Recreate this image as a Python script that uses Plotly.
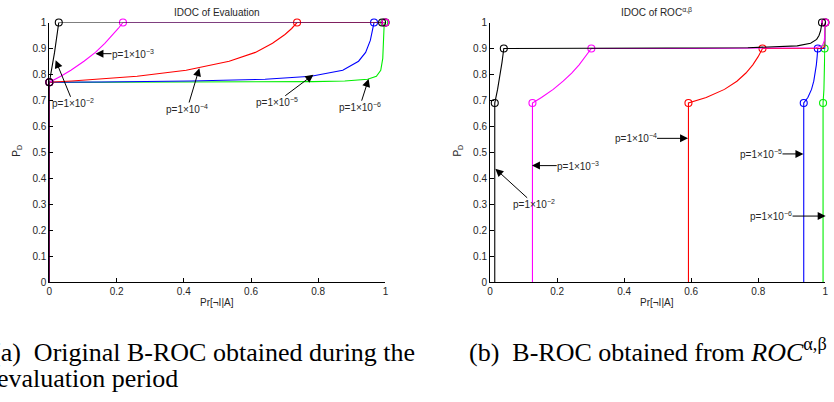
import plotly.graph_objects as go

# ---------------- data ----------------
base_rates = ["1e-2", "1e-3", "1e-4", "1e-5", "1e-6"]
curve_colors = {"1e-2": "#000000", "1e-3": "#ff00ff", "1e-4": "#ff0000",
                "1e-5": "#0000ff", "1e-6": "#00ee00"}
x_ticks = [0, 0.2, 0.4, 0.6, 0.8, 1]
y_ticks = [0, 0.1, 0.2, 0.3, 0.4, 0.5, 0.6, 0.7, 0.8, 0.9, 1]

# (a) IDOC of Evaluation
a_x_p2 = [0, 0, 0.0154, 0.028, 0.99]
a_y_p2 = [0, 0.77, 0.885, 1, 1]
a_x_p3 = [0, 0, 0.034, 0.064, 0.103, 0.137, 0.165, 0.190, 0.205, 0.219, 0.999]
a_y_p3 = [0, 0.77, 0.793, 0.816, 0.851, 0.885, 0.920, 0.954, 0.977, 1, 1]
a_x_p4 = [0, 0, 0.067, 0.152, 0.261, 0.407, 0.535, 0.613, 0.664, 0.701, 0.721, 0.737, 0.9999]
a_y_p4 = [0, 0.77, 0.775, 0.782, 0.793, 0.816, 0.851, 0.885, 0.920, 0.954, 0.977, 1, 1]
a_x_p5 = [0, 0, 0.154, 0.266, 0.420, 0.642, 0.779, 0.873, 0.920, 0.941, 0.955, 0.966, 0.99999]
a_y_p5 = [0, 0.77, 0.7712, 0.7723, 0.7746, 0.7815, 0.793, 0.816, 0.851, 0.885, 0.931, 1, 1]
a_x_p6 = [0, 0, 0.154, 0.267, 0.421, 0.645, 0.784, 0.879, 0.947, 0.973, 0.986, 0.992, 0.995, 0.9964, 1.0]
a_y_p6 = [0, 0.77, 0.7701, 0.7702, 0.7705, 0.7712, 0.7723, 0.7746, 0.7815, 0.793, 0.816, 0.862, 0.931, 1, 1]
a_mx = {"1e-2": [0, 0.028, 0.99], "1e-3": [0, 0.219, 0.999], "1e-4": [0, 0.737, 0.9999],
        "1e-5": [0, 0.966, 0.99999], "1e-6": [0, 0.9964, 1.0]}
a_my = [0.77, 1, 1]

# (b) IDOC of ROC^{alpha,beta}
b_x_p2 = [0.0141, 0.0141, 0.0225, 0.0296, 0.0358, 0.0411, 0.1326, 0.2715, 0.533, 0.769,
          0.916, 0.956, 0.974, 0.981, 0.986, 0.988, 0.99]
b_y_p2 = [0, 0.69, 0.7425, 0.795, 0.8475, 0.9, 0.9001, 0.9003, 0.901, 0.903,
          0.91, 0.92, 0.935, 0.95, 0.97, 0.985, 1.0]
b_x_p3 = [0.1265, 0.1265, 0.1534, 0.1884, 0.218, 0.2435, 0.2656, 0.285, 0.3021, 0.6067,
          0.7899, 0.9201, 0.9711, 0.991, 0.9969, 0.9984, 0.999]
b_y_p3 = [0, 0.69, 0.711, 0.7425, 0.774, 0.8055, 0.837, 0.8685, 0.9, 0.9001,
          0.9003, 0.901, 0.903, 0.91, 0.93, 0.96, 1.0]
b_x_p4 = [0.5917, 0.5917, 0.6447, 0.6991, 0.7362, 0.7631, 0.7836, 0.7996, 0.8125, 0.9392,
          0.9741, 0.9914, 0.9991, 0.9999]
b_y_p4 = [0, 0.69, 0.711, 0.7425, 0.774, 0.8055, 0.837, 0.8685, 0.9, 0.9001,
          0.9003, 0.901, 0.91, 1.0]
b_x_p5 = [0.9355, 0.9355, 0.9478, 0.9587, 0.9654, 0.9699, 0.9731, 0.9755, 0.9774, 0.9936,
          0.9991, 0.9999, 1.0]
b_y_p5 = [0, 0.69, 0.711, 0.7425, 0.774, 0.8055, 0.837, 0.8685, 0.9, 0.9001,
          0.901, 0.91, 1.0]
b_x_p6 = [0.9931, 0.9931, 0.9957, 0.9968, 0.9973, 0.9977, 0.9994, 1.0]
b_y_p6 = [0, 0.69, 0.7425, 0.795, 0.8475, 0.9, 0.9001, 1.0]
b_mx = {"1e-2": [0.0141, 0.0411, 0.99], "1e-3": [0.1265, 0.3021, 0.999],
        "1e-4": [0.5917, 0.8125, 0.9999], "1e-5": [0.9355, 0.9774, 1.0],
        "1e-6": [0.9931, 0.9977, 1.0]}
b_my = [0.69, 0.9, 1]

a_lines = {"1e-2": (a_x_p2, a_y_p2), "1e-3": (a_x_p3, a_y_p3), "1e-4": (a_x_p4, a_y_p4),
           "1e-5": (a_x_p5, a_y_p5), "1e-6": (a_x_p6, a_y_p6)}
b_lines = {"1e-2": (b_x_p2, b_y_p2), "1e-3": (b_x_p3, b_y_p3), "1e-4": (b_x_p4, b_y_p4),
           "1e-5": (b_x_p5, b_y_p5), "1e-6": (b_x_p6, b_y_p6)}

p_labels = {"1e-2": "p=1×10<sup>−2</sup>", "1e-3": "p=1×10<sup>−3</sup>",
            "1e-4": "p=1×10<sup>−4</sup>", "1e-5": "p=1×10<sup>−5</sup>",
            "1e-6": "p=1×10<sup>−6</sup>"}

# ---------------- figure ----------------
fig = go.Figure()
draw_order = ["1e-6", "1e-5", "1e-4", "1e-3", "1e-2"]
for panel, lines, mx, my, xa, ya in [("a", a_lines, a_mx, a_my, "x", "y"),
                                      ("b", b_lines, b_mx, b_my, "x2", "y2")]:
    for p in draw_order:
        xs, ys = lines[p]
        fig.add_trace(go.Scatter(x=xs, y=ys, mode="lines", xaxis=xa, yaxis=ya,
                                 line=dict(color=curve_colors[p], width=1.1),
                                 cliponaxis=False, hoverinfo="skip"))
        fig.add_trace(go.Scatter(x=mx[p], y=my, mode="markers", xaxis=xa, yaxis=ya,
                                 marker=dict(symbol="circle-open", size=7,
                                             color=curve_colors[p], line=dict(width=1.1)),
                                 cliponaxis=False, hoverinfo="skip"))

tick_font = dict(family="Liberation Sans, Arial", size=10, color="#262626")
axis_common = dict(range=[0, 1], showgrid=False, zeroline=False, showline=True,
                   linecolor="black", linewidth=1, ticks="inside", ticklen=4,
                   tickcolor="black", tickfont=tick_font, mirror=False, fixedrange=True)

fig.update_layout(
    width=834, height=402, margin=dict(l=0, r=0, t=0, b=0),
    paper_bgcolor="white", plot_bgcolor="white", showlegend=False,
    xaxis=dict(domain=[0.056, 0.4619], tickvals=x_ticks, anchor="y", **axis_common),
    yaxis=dict(domain=[0.2910, 0.9552], tickvals=y_ticks, anchor="x", **axis_common),
    xaxis2=dict(domain=[0.5882, 0.9932], tickvals=x_ticks, anchor="y2", **axis_common),
    yaxis2=dict(domain=[0.2910, 0.9552], tickvals=y_ticks, anchor="x2", **axis_common),
)

ann_font = dict(family="Liberation Sans, Arial", size=10, color="#262626")
annotations = []

# arrows + labels: (head x, head y, text x, text y)
a_arrows = {"1e-2": (0.0186, 0.855, 0.071, 0.689),
            "1e-3": (0.137, 0.880, 0.249, 0.880),
            "1e-4": (0.4463, 0.824, 0.410, 0.667),
            "1e-5": (0.7855, 0.799, 0.676, 0.693),
            "1e-6": (0.950, 0.783, 0.923, 0.674)}
b_arrows = {"1e-2": (0.0158, 0.437, 0.132, 0.300),
            "1e-3": (0.1249, 0.449, 0.263, 0.449),
            "1e-4": (0.5905, 0.554, 0.434, 0.554),
            "1e-5": (0.9346, 0.494, 0.808, 0.494),
            "1e-6": (1.001, 0.2547, 0.838, 0.2547)}
for arrows, xr, yr in [(a_arrows, "x", "y"), (b_arrows, "x2", "y2")]:
    for p, (hx, hy, tx, ty) in arrows.items():
        annotations.append(dict(x=hx, y=hy, ax=tx, ay=ty, xref=xr, yref=yr,
                                axref=xr, ayref=yr, text=p_labels[p], showarrow=True,
                                arrowhead=2, arrowsize=1.6, arrowwidth=1,
                                arrowcolor="black", font=ann_font, standoff=0,
                                borderpad=0))

W, H = 834, 402
def px(xp, yp):
    return xp / W, 1 - yp / H

title_font = dict(family="Liberation Sans, Arial", size=10, color="#262626")
for text, xp, yp in [("IDOC of Evaluation", 216, 8), ("IDOC of ROC<sup>α,β</sup>", 658, 7)]:
    xx, yy = px(xp, yp)
    annotations.append(dict(x=xx, y=yy, xref="paper", yref="paper", text=text,
                            showarrow=False, font=title_font, xanchor="center",
                            yanchor="middle"))
for xp in [216, 659]:
    xx, yy = px(xp, 306)
    annotations.append(dict(x=xx, y=yy, xref="paper", yref="paper", text="Pr[¬I|A]",
                            showarrow=False, font=title_font, xanchor="center",
                            yanchor="middle"))
for xp in [14, 458]:
    xx, yy = px(xp, 150)
    annotations.append(dict(x=xx, y=yy, xref="paper", yref="paper", text="P<sub>D</sub>",
                            showarrow=False, font=title_font, xanchor="center",
                            yanchor="middle", textangle=-90))

cap_font = dict(family="Liberation Serif, Times New Roman", size=26, color="black")
for text, xp, yp in [("(a)\u2002Original B-ROC obtained during the", -13, 357),
                     ("evaluation period", -8, 384),
                     ("(b)\u2002B-ROC obtained from <i>ROC</i><sup>α,β</sup>", 467, 355)]:
    xx, yy = px(xp, yp)
    annotations.append(dict(x=xx, y=yy, xref="paper", yref="paper", text=text,
                            showarrow=False, font=cap_font, xanchor="left",
                            yanchor="middle"))

fig.update_layout(annotations=annotations)
fig.write_html("out.html")
